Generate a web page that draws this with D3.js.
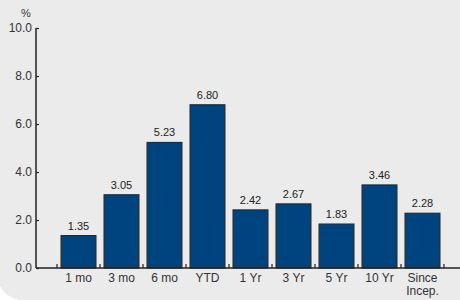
<!DOCTYPE html>
<html>
<head>
<meta charset="utf-8">
<script src="https://cdn.jsdelivr.net/npm/d3@7"></script>
<style>
  html, body { margin: 0; padding: 0; background: #ebebeb; }
  svg { display: block; font-family: "Liberation Sans", Arial, sans-serif; }
</style>
</head>
<body>
<svg id="chart"></svg>
<script>
const categories = ["1 mo", "3 mo", "6 mo", "YTD", "1 Yr", "3 Yr", "5 Yr", "10 Yr", "Since\nIncep."];
const values = [1.35, 3.05, 5.23, 6.80, 2.42, 2.67, 1.83, 3.46, 2.28];
const yTicks = [0, 2, 4, 6, 8, 10];

const width = 460, height = 300;
const svg = d3.select("#chart").attr("width", width).attr("height", height);

svg.append("rect").attr("width", width).attr("height", height).attr("fill", "#ebebeb");
// white rounded corner at lower left
svg.append("path")
  .attr("d", "M0,286 Q4,296 20,300 L0,300 Z")
  .attr("fill", "#ffffff");

const x = d3.scaleBand()
  .domain(categories)
  .range([57, 444])
  .paddingInner(0.19)
  .paddingOuter(0.095);

const y = d3.scaleLinear().domain([0, 10]).range([268, 28]);

const axisColor = "#222";

// y axis
const yAxis = svg.append("g")
  .attr("transform", "translate(36,0)")
  .call(d3.axisRight(y).tickValues(yTicks).tickSize(3).tickFormat(""));
yAxis.select(".domain").attr("d", "M0,28V268").attr("stroke", axisColor).attr("stroke-width", 1.5);
yAxis.selectAll(".tick line").attr("stroke", axisColor).attr("stroke-width", 1.2);

svg.append("g").selectAll("text")
  .data(yTicks)
  .join("text")
  .attr("x", 32)
  .attr("y", d => y(d) + 4)
  .attr("text-anchor", "end")
  .attr("font-size", 12)
  .attr("fill", "#333")
  .text(d => d.toFixed(1));

svg.append("text")
  .attr("x", 26).attr("y", 17)
  .attr("text-anchor", "middle")
  .attr("font-size", 11)
  .attr("fill", "#333")
  .text("%");

// bars
svg.append("g").selectAll("rect")
  .data(values)
  .join("rect")
  .attr("x", (d, i) => x(categories[i]))
  .attr("y", d => y(d))
  .attr("width", x.bandwidth())
  .attr("height", d => y(0) - y(d))
  .attr("fill", "#00447f")
  .attr("stroke", "#2a2a2a")
  .attr("stroke-width", 1.2);

// value labels
svg.append("g").selectAll("text")
  .data(values)
  .join("text")
  .attr("x", (d, i) => x(categories[i]) + x.bandwidth() / 2)
  .attr("y", d => y(d) - 6)
  .attr("text-anchor", "middle")
  .attr("font-size", 11)
  .attr("fill", "#222")
  .text(d => d.toFixed(2));

// x axis
const gap = x.step() * x.paddingInner() / 2;
const boundaries = categories.map(c => x(c) - gap).concat([x(categories[categories.length - 1]) + x.bandwidth() + gap]);
svg.append("line")
  .attr("x1", 36).attr("x2", width)
  .attr("y1", y(0)).attr("y2", y(0))
  .attr("stroke", axisColor).attr("stroke-width", 1.5);
svg.append("g").selectAll("line")
  .data(boundaries)
  .join("line")
  .attr("x1", d => d).attr("x2", d => d)
  .attr("y1", y(0)).attr("y2", y(0) - 4)
  .attr("stroke", axisColor).attr("stroke-width", 1.2);

// category labels
const labels = svg.append("g").selectAll("text")
  .data(categories)
  .join("text")
  .attr("x", d => x(d) + x.bandwidth() / 2)
  .attr("y", 282)
  .attr("text-anchor", "middle")
  .attr("font-size", 12)
  .attr("fill", "#333");
labels.each(function(d) {
  const parts = d.split("\n");
  d3.select(this).selectAll("tspan")
    .data(parts)
    .join("tspan")
    .attr("x", x(d) + x.bandwidth() / 2)
    .attr("dy", (p, j) => j === 0 ? 0 : 13)
    .text(p => p);
});
</script>
</body>
</html>
